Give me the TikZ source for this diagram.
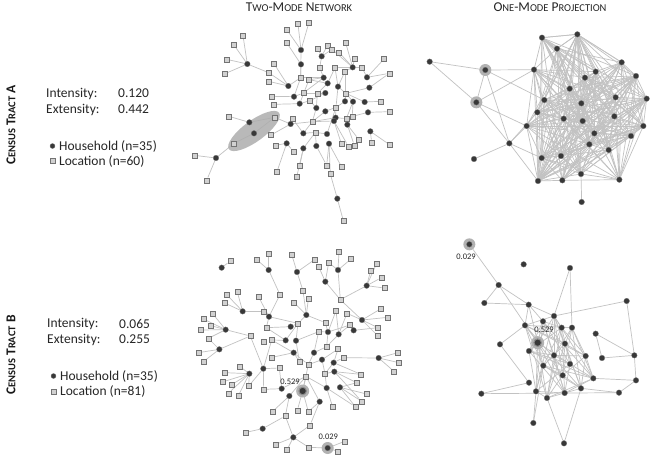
\documentclass[tikz,border=0pt]{standalone}
\usepackage{fontspec}
\setmainfont{Carlito}
\usetikzlibrary{backgrounds}
\newcommand{\smA}[1]{{\fontsize{10.5}{10.5}\selectfont #1}}
\newcommand{\smH}[1]{{\fontsize{10.5}{10.5}\selectfont #1}}
\tikzset{
 hh/.style={circle,fill=black!78,draw=black!55,line width=0.3pt,inner sep=0pt,minimum size=5.6pt},
 loc/.style={rectangle,fill=black!18,draw=black!55,line width=0.6pt,inner sep=0pt,minimum size=5pt},
 edge/.style={draw=black!24,line width=0.7pt},
 halo/.style={circle,fill=black!30,inner sep=0pt,minimum size=12pt},
 lbl/.style={font=\fontsize{8.5}{9}\selectfont,text=black!85,inner sep=0pt},
 txt/.style={font=\fontsize{13.5}{15}\selectfont,anchor=west,inner sep=0pt,text=black!85},
 head/.style={font=\fontsize{13.5}{13.5}\selectfont,text=black!85,inner sep=0pt},
 side/.style={font=\bfseries\fontsize{13.5}{13.5}\selectfont,text=black!90,rotate=90,inner sep=0pt},
 zoomA/.style={xshift=190pt,yshift=-20pt,x=0.33333pt,y=-0.33333pt},
 zoomP/.style={xshift=400pt,yshift=-20pt,x=0.33333pt,y=-0.33333pt},
 zoomB/.style={xshift=190pt,yshift=-230pt,x=0.33333pt,y=-0.33333pt},
 zoomQ/.style={xshift=400pt,yshift=-230pt,x=0.33333pt,y=-0.33333pt},
}
\begin{document}
\begin{tikzpicture}[x=1pt,y=-1pt]
\useasboundingbox (0,0) rectangle (651,456);
\begin{pgfonlayer}{background}
\fill[white] (0,0) rectangle (651,456);
\end{pgfonlayer}

% headers
\node[head] (h1) at (299,7) {T\smH{WO}-M\smH{ODE} N\smH{ETWORK}};
\node[head] (h2) at (550,7) {O\smH{NE}-M\smH{ODE} P\smH{ROJECTION}};
\node[side] (sa) at (11,125) {C\smA{ENSUS} T\smA{RACT} A};
\node[side] (sb) at (11,355) {C\smA{ENSUS} T\smA{RACT} B};

% left texts A
\node[txt] (ia) at (46,93.5) {Intensity:};
\node[txt] (iva) at (118,93.5) {0.120};
\node[txt] (ea) at (46,109.5) {Extensity:};
\node[txt] (eva) at (118,109.5) {0.442};
\node[hh,minimum size=5pt] (lga) at (52.5,146) {};
\node[txt] (lgat) at (59,146) {Household (n=35)};
\node[loc,minimum size=5pt] (lla) at (52.5,161) {};
\node[txt] (llat) at (59,161) {Location (n=60)};
% left texts B
\node[txt] (ib) at (47,323.5) {Intensity:};
\node[txt] (ivb) at (119,323.5) {0.065};
\node[txt] (eb) at (47,339.5) {Extensity:};
\node[txt] (evb) at (119,339.5) {0.255};
\node[hh,minimum size=5pt] (lgb) at (53.5,376) {};
\node[txt] (lgbt) at (60,376) {Household (n=35)};
\node[loc,minimum size=5pt] (llb) at (53.5,391.5) {};
\node[txt] (llbt) at (60,391.5) {Location (n=81)};

% ===== Top-left: two-mode A =====
\begin{scope}[zoomA]
\foreach \n/\x/\y in {1/324/12,2/357/7,3/291/30,4/159/47,5/132/75,6/290/68,7/467/68,8/412/77,9/426/88,10/384/87,11/447/97,12/110/118,13/252/131,14/494/115,15/582/117,16/105/161,17/236/158,18/389/143,19/435/143,20/465/154,21/516/143,22/598/160,23/236/184,24/332/173,25/357/179,26/340/219,27/382/220,28/468/220,29/244/229,30/250/253,31/360/242,32/572/244,33/438/262,34/117/289,35/254/292,36/307/295,37/367/305,38/469/296,39/487/289,40/598/275,41/243/345,42/376/337,43/506/358,44/545/367,45/454/371,46/475/379,47/493/376,48/256/376,49/310/394,50/600/375,51/132/370,52/13/406,53/329/438,54/410/436,55/455/441,56/261/455,57/320/471,58/421/462,59/50/481,60/460/602}
  \node[loc] (al\n) at (\x,\y) {};
\foreach \n/\x/\y in {1/172/132,2/333/90,3/333/133,4/395/109,5/488/142,6/531/172,7/538/203,8/295/198,9/312/230,10/329/251,11/401/173,12/413/190,13/444/200,14/406/219,15/465/244,16/489/245,17/524/246,18/534/277,19/379/264,20/406/274,21/437/293,22/432/303,23/472/314,24/302/312,25/178/307,26/192/340,27/340/340,28/411/342,29/541/334,30/290/370,31/340/385,32/379/378,33/417/371,34/78/414,35/442/536}
  \node[hh] (ah\n) at (\x,\y) {};
\end{scope}
\begin{pgfonlayer}{background}
\foreach \a/\b in {1/4,1/5,1/12,1/16,1/17,2/1,2/2,2/3,3/6,3/24,2/24,4/8,4/9,4/10,4/18,5/7,5/9,5/11,5/14,5/19,5/20,5/21,6/15,6/21,6/22,7/28,7/22,8/13,8/17,8/23,8/24,9/24,9/26,9/29,10/25,10/30,10/31,11/18,11/24,11/25,12/19,12/25,13/20,13/28,13/19,14/26,14/27,15/28,15/33,15/20,16/38,16/39,16/28,17/28,17/32,18/39,18/40,19/27,19/31,19/37,20/33,20/37,21/33,21/37,22/37,22/45,22/46,23/38,23/43,23/47,24/35,24/36,24/37,24/41,25/34,25/35,26/35,26/51,27/37,27/42,27/36,28/33,28/42,29/44,29/50,30/48,30/49,30/56,31/42,31/53,31/57,32/42,32/54,33/54,33/55,33/58,34/51,34/52,34/59,35/58,35/60,12/27,13/33,14/31,21/38,11/26}
  \draw[edge] (ah\a) -- (al\b);
\fill[black!32,opacity=0.85,rotate around={36:(254,131)}] (254,131) ellipse [x radius=31pt,y radius=10.5pt];
\end{pgfonlayer}

% ===== Top-right: one-mode A =====
\begin{scope}[zoomP]
\node[halo] (ph2) at (256,150) {};
\node[halo] (ph3) at (229,247) {};
\foreach \n/\x/\y in {1/89/125,2/256/150,3/229/247,4/222/417,5/328/370,6/380/318,7/402/149,8/426/53,9/532/43,10/471/86,11/665/127,12/587/155,13/555/173,14/708/168,15/509/206,16/433/240,17/544/250,18/647/232,19/740/236,20/412/277,21/491/296,22/548/303,23/643/289,24/730/318,25/583/340,26/693/348,27/568/373,28/626/390,29/425/414,30/483/408,31/543/462,32/414/483,33/487/481,34/658/479,35/545/546}
  \node[hh] (p\n) at (\x,\y) {};
\end{scope}
\begin{pgfonlayer}{background}
\foreach \a/\b in {1/2,1/3,2/3,2/7,2/5,3/7,3/6,3/5,4/5,5/29,5/20,5/6,5/32,2/16,31/35,8/9,8/10,9/10,9/11}
  \draw[edge] (p\a) -- (p\b);
\foreach \i in {6,...,34}{\foreach \j in {6,...,34}{%
  \ifnum\i<\j\relax
    \pgfmathtruncatemacro\r{mod(\i*\j+3*\i+\j,5)}%
    \ifnum\r<3\relax \draw[edge] (p\i) -- (p\j);\fi
  \fi}}
\end{pgfonlayer}

% ===== Bottom-left: two-mode B =====
\begin{scope}[zoomB]
\foreach \n/\x/\y in {1/121/93,2/235/72,3/305/73,4/375/88,5/447/64,6/483/87,7/199/88,8/386/110,9/416/98,10/542/122,11/574/143,12/583/174,13/111/195,14/142/186,15/205/199,16/270/194,17/339/182,18/355/207,19/312/218,20/451/209,21/104/219,22/68/251,23/40/267,24/63/287,25/33/300,26/55/325,27/25/368,28/40/395,29/220/244,30/181/318,31/229/293,32/245/330,33/222/335,34/324/280,35/386/305,36/406/278,37/438/242,38/471/250,39/480/285,40/573/236,41/593/262,42/564/293,43/564/318,44/624/368,45/627/398,46/612/424,47/410/350,48/444/357,49/460/383,50/246/382,51/268/414,52/328/395,53/355/404,54/405/431,55/348/439,56/513/433,57/500/458,58/150/410,59/105/428,60/97/456,61/125/464,62/115/490,63/145/497,64/176/468,65/221/478,66/247/545,67/286/558,68/322/541,69/355/545,70/428/531,71/496/530,72/515/514,73/530/492,74/360/586,75/168/607,76/257/643,77/291/660,78/356/652,79/464/634,80/443/664,81/560/100}
  \node[loc] (bs\n) at (\x,\y) {};
\node[halo,minimum size=13pt] (bh28) at (338,483) {};
\node[halo] (bh35) at (413,654) {};
\foreach \n/\x/\y in {1/95/113,2/236/120,3/321/126,4/444/120,5/406/155,6/530/167,7/158/244,8/237/260,9/349/255,10/516/270,11/107/299,12/302/290,13/287/331,14/318/332,15/414/306,16/446/313,17/491/301,18/88/358,19/311/368,20/372/368,21/396/389,22/431/398,23/566/384,24/220/416,25/178/431,26/433/425,27/275/476,29/410/474,30/450/472,31/298/498,32/389/515,33/218/596,34/310/622,35/413/654}
  \node[hh] (bc\n) at (\x,\y) {};
\node[hh,minimum size=7.5pt,draw=black!45,line width=1pt] (bc28) at (338,483) {};
\node[lbl] (bl1) at (300,455) {0.529};
\node[lbl] (bl2) at (415,620) {0.029};
\end{scope}
\begin{pgfonlayer}{background}
\foreach \a/\b in {1/1,2/2,2/7,2/16,3/3,3/4,3/17,4/5,4/6,4/9,4/20,5/8,5/9,5/20,6/10,6/11,6/12,6/81,6/20,7/13,7/14,7/21,7/29,8/15,8/16,8/29,8/31,8/34,9/17,9/18,9/19,9/34,9/36,10/20,10/38,10/40,10/41,10/42,10/43,11/22,11/23,11/24,11/25,11/26,11/30,12/31,12/34,13/32,13/31,13/34,14/34,14/35,14/52,15/35,15/36,15/37,15/39,15/47,16/37,16/38,16/39,16/47,17/39,17/42,18/26,18/27,18/28,18/30,19/50,19/52,19/53,19/32,20/35,20/47,20/53,21/48,21/53,21/54,22/48,22/49,22/56,22/54,23/44,23/45,23/46,23/49,24/32,24/51,24/64,24/65,24/30,25/58,25/59,25/60,25/61,25/62,25/63,25/64,26/54,26/56,26/57,26/72,27/51,27/65,27/55,28/53,28/55,28/68,28/69,29/54,29/55,29/70,29/71,30/57,30/71,30/72,30/73,31/66,31/67,31/55,32/55,32/69,32/74,33/75,33/67,34/67,34/74,34/76,34/77,34/78,35/78,35/79,35/80}
  \draw[edge] (bc\a) -- (bs\b);
\end{pgfonlayer}

% ===== Bottom-right: one-mode B =====
\begin{scope}[zoomQ]
\node[halo] (qh1) at (208,43) {};
\node[halo,minimum size=13pt] (qh14) at (413,338) {};
\foreach \n/\x/\y in {1/208/43,2/371/103,3/510/114,4/296/165,5/253/219,6/386/224,7/680/213,8/462/258,9/429/274,10/375/286,11/485/293,12/516/293,13/587/311,15/300/343,16/387/363,17/495/341,18/462/376,19/557/378,20/606/384,21/703/376,22/430/407,23/510/402,24/488/436,25/580/445,26/708/451,27/387/458,28/408/484,29/441/504,30/494/489,31/543/475,32/657/488,33/244/491,34/400/579,35/492/640}
  \node[hh] (q\n) at (\x,\y) {};
\node[hh,minimum size=7.5pt,draw=black!45,line width=1pt] (q14) at (413,338) {};
\node[lbl] (ql1) at (198,80) {0.029};
\node[lbl] (ql2) at (432,300) {0.529};
\end{scope}
\begin{pgfonlayer}{background}
\foreach \a/\b in {1/4,4/6,4/14,4/5,5/6,6/8,6/10,6/14,6/9,3/8,3/12,7/8,7/21,15/10,15/27,33/27,33/32,34/28,34/22,35/29,35/31,21/26,21/20,26/32,13/20,21/13,26/25,32/31}
  \draw[edge] (q\a) -- (q\b);
\foreach \i in {8,9,10,11,12,13,14,16,17,18,19,20,22,23,24,25,27,28,29,30,31}{%
 \foreach \j in {8,9,10,11,12,13,14,16,17,18,19,20,22,23,24,25,27,28,29,30,31}{%
  \ifnum\i<\j\relax
    \pgfmathtruncatemacro\r{mod(\i*\j+\i+\j,7)}%
    \ifnum\r<3\relax \draw[edge] (q\i) -- (q\j);\fi
  \fi}}
\end{pgfonlayer}
\end{tikzpicture}
\end{document}
